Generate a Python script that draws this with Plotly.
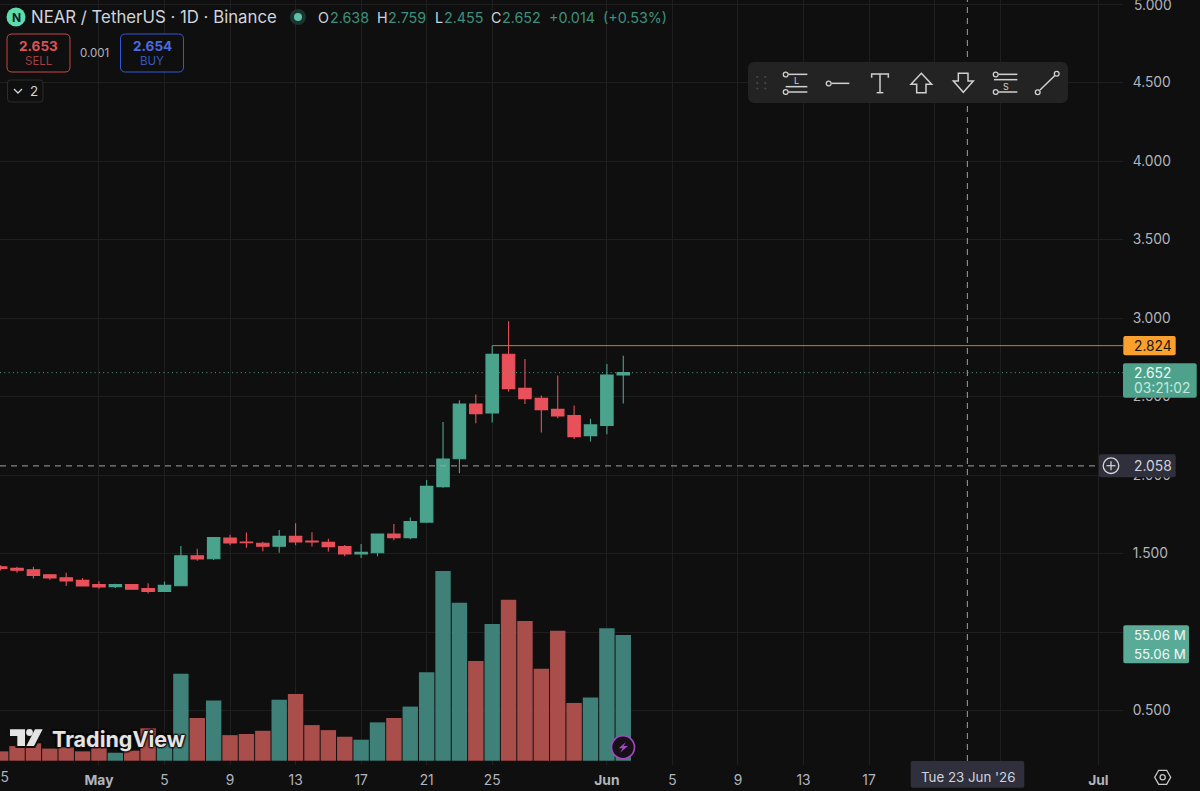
import plotly.graph_objects as go

dates = ['2026-04-25', '2026-04-26', '2026-04-27', '2026-04-28', '2026-04-29', '2026-04-30',
         '2026-05-01', '2026-05-02', '2026-05-03', '2026-05-04', '2026-05-05', '2026-05-06',
         '2026-05-07', '2026-05-08', '2026-05-09', '2026-05-10', '2026-05-11', '2026-05-12',
         '2026-05-13', '2026-05-14', '2026-05-15', '2026-05-16', '2026-05-17', '2026-05-18',
         '2026-05-19', '2026-05-20', '2026-05-21', '2026-05-22', '2026-05-23', '2026-05-24',
         '2026-05-25', '2026-05-26', '2026-05-27', '2026-05-28', '2026-05-29', '2026-05-30',
         '2026-05-31', '2026-06-01', '2026-06-02']
opens = [1.416, 1.405, 1.397, 1.365, 1.346, 1.329, 1.302, 1.289, 1.302, 1.276, 1.259, 1.295,
         1.486, 1.467, 1.599, 1.573, 1.565, 1.546, 1.609, 1.580, 1.571, 1.544, 1.497, 1.505,
         1.624, 1.601, 1.700, 1.926, 2.104, 2.452, 2.395, 2.769, 2.552, 2.488, 2.418, 2.378,
         2.251, 2.316, 2.638]
highs = [1.425, 1.416, 1.416, 1.369, 1.378, 1.344, 1.323, 1.308, 1.304, 1.310, 1.321, 1.548,
         1.531, 1.601, 1.620, 1.633, 1.575, 1.650, 1.692, 1.635, 1.594, 1.554, 1.561, 1.624,
         1.688, 1.730, 1.968, 2.338, 2.476, 2.512, 2.824, 2.979, 2.739, 2.507, 2.633, 2.442,
         2.359, 2.707, 2.759]
lows = [1.391, 1.378, 1.340, 1.333, 1.293, 1.291, 1.276, 1.280, 1.270, 1.246, 1.259, 1.293,
        1.454, 1.459, 1.552, 1.537, 1.514, 1.505, 1.552, 1.544, 1.512, 1.482, 1.471, 1.482,
        1.584, 1.590, 1.695, 1.919, 2.011, 2.329, 2.335, 2.531, 2.452, 2.270, 2.361, 2.229,
        2.214, 2.259, 2.455]
closes = [1.405, 1.393, 1.361, 1.344, 1.325, 1.293, 1.287, 1.302, 1.272, 1.259, 1.297, 1.486,
          1.465, 1.601, 1.567, 1.569, 1.546, 1.609, 1.573, 1.573, 1.544, 1.497, 1.507, 1.624,
          1.601, 1.703, 1.928, 2.102, 2.452, 2.391, 2.769, 2.550, 2.486, 2.416, 2.376, 2.244,
          2.319, 2.637, 2.652]
volumes = [4.1, 6.4, 7.6, 5.3, 5.8, 4.1, 5.5, 3.5, 4.4, 14.2, 9.0, 38.1, 18.7, 26.4, 11.2,
           11.7, 13.1, 26.7, 29.2, 15.6, 13.4, 10.5, 9.2, 16.8, 18.7, 23.7, 38.8, 83.1, 69.2,
           43.7, 59.9, 70.5, 61.2, 40.3, 56.9, 25.3, 27.7, 58.0, 55.06]

x_ticks = ['2026-04-25', '2026-05-01', '2026-05-05', '2026-05-09', '2026-05-13', '2026-05-17',
           '2026-05-21', '2026-05-25', '2026-06-01', '2026-06-05', '2026-06-09', '2026-06-13',
           '2026-06-17', '2026-06-21', '2026-06-25', '2026-07-01']
x_labels = ['25', '<b>May</b>', '5', '9', '13', '17', '21', '25', '<b>Jun</b>', '5', '9', '13',
            '17', '21', '25', '<b>Jul</b>']
y_ticks = [0.5, 1.0, 1.5, 2.0, 2.5, 3.0, 3.5, 4.0, 4.5, 5.0]

last_price = 2.652
order_price = 2.824
cross_price = 2.058
cross_date = '2026-06-23'
order_start = '2026-05-25'
x_start = '2026-04-24 23:02'
x_end = '2026-07-02 12:00'

BG = '#0f0f0f'
GRID = '#1f1f1f'
UP = '#4aa48d'
DOWN = '#e8505a'
VOL_UP = '#3f8078'
VOL_DOWN = '#aa4e4b'
TEXT = '#b2b5be'
FONT = 'Inter'
PLOT_W = 1123
PLOT_H = 765

shapes = []
notes = []


# chrome round the chart is placed in screen pixels
def px(x):
    return x / PLOT_W


def py(y):
    return 1 - y / PLOT_H


def path_shape(points, close=True, fill=None, color=None, width=1.5):
    d = 'M ' + ' L '.join(f'{px(a):.5f} {py(b):.5f}' for a, b in points)
    if close:
        d += ' Z'
    shapes.append(dict(type='path', xref='paper', yref='paper', path=d,
                       fillcolor=fill or 'rgba(0,0,0,0)',
                       line=dict(color=color or 'rgba(0,0,0,0)', width=width)))


def round_box(x0, y0, x1, y1, r, fill=None, color=None, width=1):
    d = (f'M {px(x0 + r):.5f} {py(y0):.5f} L {px(x1 - r):.5f} {py(y0):.5f} '
         f'Q {px(x1):.5f} {py(y0):.5f} {px(x1):.5f} {py(y0 + r):.5f} '
         f'L {px(x1):.5f} {py(y1 - r):.5f} '
         f'Q {px(x1):.5f} {py(y1):.5f} {px(x1 - r):.5f} {py(y1):.5f} '
         f'L {px(x0 + r):.5f} {py(y1):.5f} '
         f'Q {px(x0):.5f} {py(y1):.5f} {px(x0):.5f} {py(y1 - r):.5f} '
         f'L {px(x0):.5f} {py(y0 + r):.5f} '
         f'Q {px(x0):.5f} {py(y0):.5f} {px(x0 + r):.5f} {py(y0):.5f} Z')
    shapes.append(dict(type='path', xref='paper', yref='paper', path=d,
                       fillcolor=fill or 'rgba(0,0,0,0)',
                       line=dict(color=color or 'rgba(0,0,0,0)', width=width if color else 0)))


def circle(cx, cy, r, fill=None, color=None, width=1.5):
    shapes.append(dict(type='circle', xref='paper', yref='paper',
                       x0=px(cx - r), x1=px(cx + r), y0=py(cy + r), y1=py(cy - r),
                       fillcolor=fill or 'rgba(0,0,0,0)',
                       line=dict(color=color or 'rgba(0,0,0,0)', width=width if color else 0)))


def label(x, y, text, size=13, color=TEXT, anchor='left', **kw):
    notes.append(dict(xref='paper', yref='paper', x=px(x), y=py(y), text=text, showarrow=False,
                      xanchor=anchor, yanchor='middle', align=anchor, borderpad=0,
                      font=dict(family=FONT, size=size, color=color, **kw)))


# price lines
shapes.append(dict(type='line', xref='paper', yref='y2', x0=0, x1=1, y0=last_price, y1=last_price,
                   line=dict(color='#5a9a8a', width=1, dash='1px 3.3px')))
shapes.append(dict(type='line', xref='x', yref='y2', x0=order_start, x1=x_end,
                   y0=order_price, y1=order_price, line=dict(color='#c87f1f', width=1)))
shapes.append(dict(type='line', xref='paper', yref='y2', x0=0, x1=px(1099), y0=cross_price,
                   y1=cross_price, line=dict(color='#a0a0a0', width=1, dash='6px 5px')))
shapes.append(dict(type='line', xref='x', yref='paper', x0=cross_date, x1=cross_date, y0=py(761),
                   y1=1, line=dict(color='#a0a0a0', width=1, dash='6px 5px')))

# these two sit on the page edge, plotly drops them as tick labels
label(1133, 5, f'{y_ticks[-1]:.3f}', size=13.8)
label(0.7, 777, x_labels[0], size=13.8, anchor='center')

# top left legend
circle(16, 17, 9.5, fill='#5fdcae')
label(16, 17, '<b>N</b>', size=12, color='#10201b', anchor='center')
label(30, 17, 'NEAR / TetherUS · 1D · Binance', size=16.8, color='#d1d4dc')
circle(298, 17, 8, fill='#1c3330')
circle(298, 17, 4, fill='#5fc0a8')
OHLC_GREEN = '#3f8f7d'
for x, t, c in [(317, 'O', '#d1d4dc'), (329, '2.638', OHLC_GREEN), (376, 'H', '#d1d4dc'),
                (387, '2.759', OHLC_GREEN), (434, 'L', '#d1d4dc'), (443, '2.455', OHLC_GREEN),
                (490, 'C', '#d1d4dc'), (501, '2.652', OHLC_GREEN), (548, '+0.014', OHLC_GREEN),
                (602, '(+0.53%)', OHLC_GREEN)]:
    label(x, 17, t, size=14.3, color=c)

round_box(7, 34, 70, 72, 5, fill=BG, color='#c8474d')
label(38.5, 46, '<b>2.653</b>', size=13.5, color='#d9545a', anchor='center')
label(38.5, 61, 'SELL', size=11.5, color='#a03f43', anchor='center')
label(94.5, 53, '0.001', size=11.5, color=TEXT, anchor='center')
round_box(120.5, 34, 183.5, 72, 5, fill=BG, color='#3458d8')
label(152, 46, '<b>2.654</b>', size=13.5, color='#4a6be0', anchor='center')
label(152, 61, 'BUY', size=11.5, color='#3b57b8', anchor='center')
round_box(7.5, 80, 43, 102, 3, fill=BG, color='#2c2c2c')
path_shape([(14, 89), (18, 93), (22, 89)], close=False, color='#d1d4dc', width=1.3)
label(33.5, 91, '2', size=13.5, color='#d1d4dc', anchor='center')

# drawing toolbar
round_box(748, 62, 1068, 103, 7, fill='#232323')
for gx in [757.3, 765.3]:
    for gy in [77, 83, 88.5]:
        circle(gx, gy, 1.1, fill='#4a4a4a')
ICON = '#d0d0d0'


def z2(points):
    return [(740 + a / 3, 55 + b / 3) for a, b in points]


circle(785.7, 74.5, 2.4, color=ICON, width=1.3)
path_shape(z2([(145, 58), (202, 58)]), close=False, color=ICON)
path_shape(z2([(137, 95), (202, 95)]), close=False, color=ICON)
label(796, 81, 'L', size=9, color=ICON, anchor='center')
circle(785.7, 92, 2.4, color=ICON, width=1.3)
path_shape(z2([(145, 111), (202, 111)]), close=False, color=ICON)
circle(828.7, 83.5, 2.4, color=ICON, width=1.3)
path_shape(z2([(274, 85), (328, 85)]), close=False, color=ICON)
path_shape(z2([(395, 68), (395, 57), (445, 57), (445, 68)]), close=False, color=ICON)
path_shape(z2([(420, 57), (420, 113)]), close=False, color=ICON)
path_shape(z2([(410, 113), (430, 113)]), close=False, color=ICON)
path_shape(z2([(544, 55), (575, 88), (558, 88), (558, 113), (530, 113), (530, 88), (513, 88)]),
           color=ICON)
path_shape(z2([(670, 112), (700, 78), (684, 78), (684, 55), (655, 55), (655, 78), (640, 78)]),
           color=ICON)
circle(995.7, 74.5, 2.4, color=ICON, width=1.3)
path_shape(z2([(775, 58), (832, 58)]), close=False, color=ICON)
path_shape(z2([(762, 74), (832, 74)]), close=False, color=ICON)
label(1006, 86.5, 'S', size=9, color=ICON, anchor='center')
circle(995.7, 92, 2.4, color=ICON, width=1.3)
path_shape(z2([(775, 111), (832, 111)]), close=False, color=ICON)
circle(1056.7, 73.7, 2.4, color=ICON, width=1.3)
circle(1037.7, 92.3, 2.4, color=ICON, width=1.3)
path_shape(z2([(900, 105), (944, 62)]), close=False, color=ICON)

# price scale labels
round_box(1123.3, 336, 1175.7, 355.3, 2, fill='#f9a02e')
label(1133, 345.7, '2.824', size=13.8, color='#1a1408')
round_box(1123, 363.3, 1196.7, 397.7, 2, fill='#4ea28c')
label(1133, 372.7, '2.652', size=13.8, color='#f0faf6')
label(1133, 388, '03:21:02', size=13.8, color='#c5e8dc')
round_box(1099, 454.3, 1175.7, 477.3, 2, fill='#2f303c')
circle(1111, 465.7, 7.8, color='#d8d8d8', width=1.3)
path_shape([(1106.5, 465.7), (1115.5, 465.7)], close=False, color='#d8d8d8', width=1.2)
path_shape([(1111, 461.2), (1111, 470.2)], close=False, color='#d8d8d8', width=1.2)
label(1133, 465.7, '2.058', size=13.8, color='#d1d4dc')
round_box(1123.3, 625.3, 1189, 663.3, 2, fill='#5aaa98')
label(1133, 635, '55.06 M', size=13.3, color='#eefaf6')
label(1133, 653.5, '55.06 M', size=13.3, color='#eefaf6')

# time scale label and settings icon
round_box(910.7, 761, 1024.3, 787.7, 2, fill='#2f303c')
label(967.5, 777, "Tue 23 Jun '26", size=13.3, color='#d1d4dc', anchor='center')
path_shape([(1170.7, 777.3), (1166.7, 770.3), (1158.7, 770.3), (1154.7, 777.3), (1158.7, 784.3),
            (1166.7, 784.3)], color='#c8c8c8', width=1.3)
circle(1162.7, 777.3, 2.6, color='#c8c8c8', width=1.3)


# TradingView mark, lightning badge
def z5(points):
    return [(a / 3, 660 + b / 3) for a, b in points]


# dark outline first so the volume bars stop short of the mark
for halo, w in [(BG, 4), (None, 0)]:
    c = halo or '#e4e4e4'
    path_shape(z5([(30, 208), (75, 208), (75, 258), (52, 258), (52, 228), (30, 228)]),
               fill=c, color=c, width=w)
    circle(29.5, 732.5, 3.4, fill=c, color=c, width=w)
    path_shape(z5([(128, 208), (102, 258), (79, 258), (105, 208)]), fill=c, color=c, width=w)
halo_text = ', '.join(['0 0 2px #0f0f0f'] * 8)
label(50.5, 739, '<b>TradingView</b>', size=21.5, color='#e4e4e4', shadow=halo_text)
circle(623, 747.3, 11.5, fill='#171019', color='#a24bc0', width=1.6)
path_shape([(400 + a / 3, 560 + b / 3) for a, b in [(677, 547), (656, 565), (668, 565), (660, 578),
                                                    (684, 558), (671, 558)]], fill='#a24bc0')

fig = go.Figure()
vol_colors = [VOL_UP if c >= o else VOL_DOWN for o, c in zip(opens, closes)]
fig.add_trace(go.Bar(x=dates, y=volumes, marker=dict(color=vol_colors, line=dict(width=0)),
                     yaxis='y', hoverinfo='skip'))
fig.add_trace(go.Candlestick(x=dates, open=opens, high=highs, low=lows, close=closes, yaxis='y2',
                             increasing=dict(line=dict(color=UP, width=1.1), fillcolor=UP),
                             decreasing=dict(line=dict(color=DOWN, width=1.1), fillcolor=DOWN),
                             whiskerwidth=0, hoverinfo='skip'))

fig.update_layout(
    width=1200, height=791,
    margin=dict(l=0, r=77, t=0, b=26),
    paper_bgcolor=BG, plot_bgcolor=BG,
    showlegend=False,
    bargap=0.06, boxgap=0.24, boxgroupgap=0,
    font=dict(family=FONT, size=13.8, color=TEXT),
    xaxis=dict(type='date', range=[x_start, x_end],
               tickmode='array', tickvals=x_ticks, ticktext=x_labels, tickangle=0,
               showgrid=True, gridcolor=GRID, gridwidth=1, zeroline=False, showline=False,
               ticks='outside', ticklen=2, tickcolor=BG,
               rangeslider=dict(visible=False)),
    yaxis=dict(range=[-1.88, 333.2], visible=False, showgrid=False, zeroline=False),
    yaxis2=dict(range=[0.1529, 5.0255], overlaying='y', side='right', tickmode='array',
                tickvals=y_ticks, ticktext=[f'{v:.3f}' for v in y_ticks],
                showgrid=True, gridcolor=GRID, gridwidth=1, zeroline=False, showline=False,
                ticks='outside', ticklen=6, tickcolor=BG),
    shapes=shapes,
    annotations=notes,
)

# the page keeps a default body margin otherwise
fig.write_html("out.html", config=dict(displayModeBar=False),
               post_script="document.body.style.margin='0';document.body.style.overflow='hidden';")
